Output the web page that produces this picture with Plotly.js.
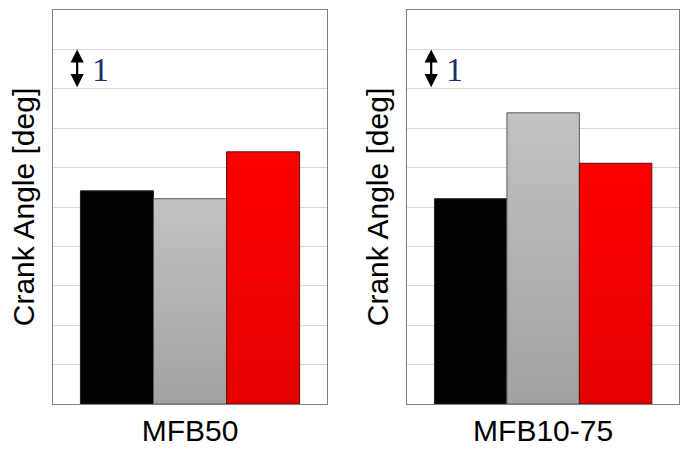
<!DOCTYPE html>
<html><head><meta charset="utf-8">
<script src="https://cdn.plot.ly/plotly-3.0.1.min.js"></script>
<style>html,body{margin:0;padding:0;background:#fff}</style>
</head><body>
<div id="chart" style="width:686px;height:450px"></div>
<script>
// Data (crank angle, arbitrary origin; 1 gridline = 1 deg)
const panels = ["MFB50", "MFB10-75"];
const seriesBlack = [5.41, 5.21];
const seriesGray  = [5.21, 7.39];
const seriesRed   = [6.40, 6.11];
const yTitle = "Crank Angle [deg]";
const scaleLabel = "1";

const traces = [];
panels.forEach((p, i) => {
  const xa = i === 0 ? 'x' : 'x2', ya = i === 0 ? 'y' : 'y2';
  traces.push({type:'bar', x:[p], y:[seriesBlack[i]], xaxis:xa, yaxis:ya, name:'black',
    marker:{color:'#030303', line:{color:'#222', width:1}}, showlegend:false, hoverinfo:'y'});
  traces.push({type:'bar', x:[p], y:[seriesGray[i]], xaxis:xa, yaxis:ya, name:'gray',
    marker:{color:'#b2b2b2', line:{color:'#5a5a5a', width:1}}, showlegend:false, hoverinfo:'y'});
  traces.push({type:'bar', x:[p], y:[seriesRed[i]], xaxis:xa, yaxis:ya, name:'red',
    marker:{color:'#f50000', line:{color:'#5a1010', width:1}}, showlegend:false, hoverinfo:'y'});
});

const yax = (dom) => ({
  domain:[0,1], range:[0,10], dtick:1, showticklabels:false, ticks:'',
  showgrid:true, gridcolor:'#d9d9d9', gridwidth:1, zeroline:false,
  showline:true, mirror:true, linecolor:'#808080', linewidth:1,
  title:{text:yTitle, font:{family:'Liberation Sans, Arial', size:30, color:'#000'}, standoff:8},
  fixedrange:true
});
const xax = (dom) => ({
  domain:dom, showline:true, mirror:true, linecolor:'#808080', linewidth:1, ticks:'',
  tickfont:{family:'Liberation Sans, Arial', size:30, color:'#000'}, fixedrange:true
});

const annotations = [];
['x','x2'].forEach((xa, i) => {
  const ya = i === 0 ? 'y' : 'y2';
  annotations.push({xref: xa + ' domain', yref: ya, x:0.088, y:9, axref:'pixel', ax:0, ayref: ya, ay:8,
    showarrow:true, arrowside:'end+start', arrowhead:2, arrowsize:1.2, arrowwidth:2.2, arrowcolor:'#000',
    standoff:0, startstandoff:0, text:''});
  annotations.push({xref: xa + ' domain', yref: ya, x:0.172, y:8.5, showarrow:false, text:scaleLabel,
    font:{family:'Liberation Serif, Times New Roman', size:34, color:'#1f2c6b'}, xanchor:'center', yanchor:'middle'});
});

const layout = {
  width:686, height:450, margin:{l:0, r:0, t:10, b:46},
  paper_bgcolor:'#fff', plot_bgcolor:'#fff',
  barmode:'group', bargap:0.2, bargroupgap:0,
  xaxis: xax([0.0773, 0.4767]), yaxis: Object.assign(yax(), {anchor:'x'}),
  xaxis2: Object.assign(xax([0.5937, 0.9898]), {anchor:'y2'}), yaxis2: Object.assign(yax(), {anchor:'x2'}),
  annotations: annotations
};
layout.xaxis.anchor = 'y';

Plotly.newPlot('chart', traces, layout, {displayModeBar:false, staticPlot:true}).then(gd => {
  const svg = gd.querySelector('svg.main-svg');
  const ns = 'http://www.w3.org/2000/svg';
  let defs = svg.querySelector('defs');
  const mk = (id, c1, c2) => {
    const g = document.createElementNS(ns, 'linearGradient');
    g.setAttribute('id', id); g.setAttribute('x1','0'); g.setAttribute('y1','0'); g.setAttribute('x2','0'); g.setAttribute('y2','1');
    [[0,c1],[1,c2]].forEach(([o,c]) => { const s = document.createElementNS(ns,'stop'); s.setAttribute('offset', o); s.setAttribute('stop-color', c); g.appendChild(s); });
    defs.appendChild(g);
  };
  mk('gradGray', '#c2c2c2', '#a2a2a2');
  mk('gradRed', '#ff0000', '#e40000');
  gd.querySelectorAll('.trace.bars').forEach(t => {
    const d = t.__data__ && t.__data__[0] && t.__data__[0].trace;
    if (!d) return;
    const id = d.name === 'gray' ? 'gradGray' : d.name === 'red' ? 'gradRed' : null;
    if (id) t.querySelectorAll('path').forEach(p => { p.style.fill = 'url(#' + id + ')'; });
  });
});
</script>
</body></html>
